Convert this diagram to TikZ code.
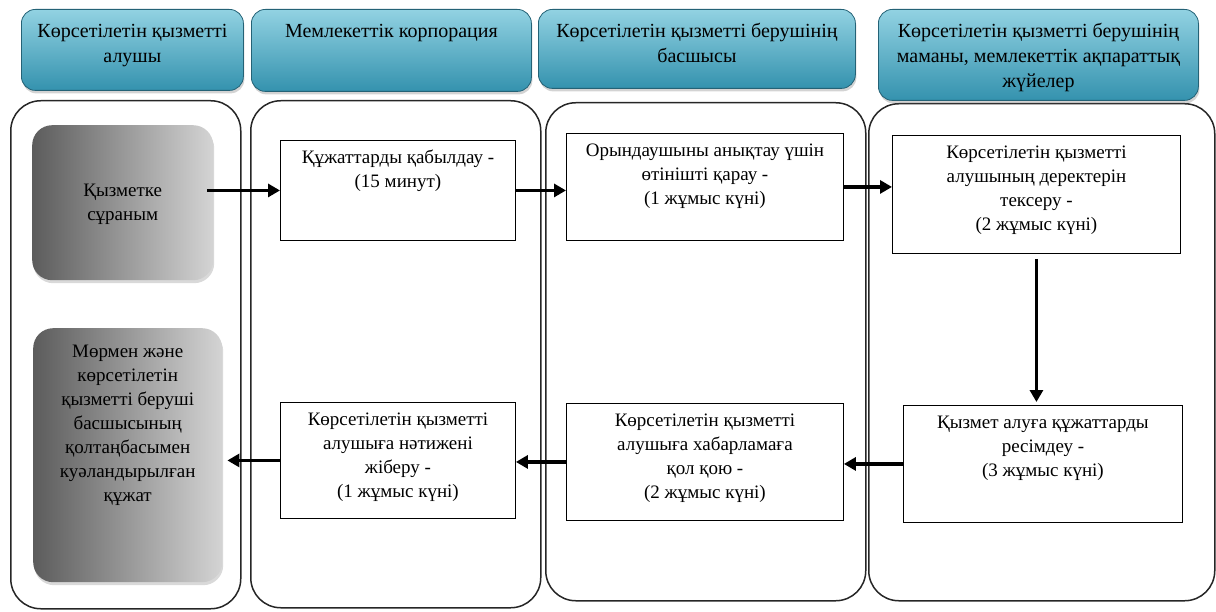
\documentclass[tikz,border=0pt]{standalone}
\usepackage{fontspec}
\setmainfont{Liberation Serif}
\newfontfamily\kzfont{Liberation Serif}
\usetikzlibrary{arrows.meta,shadows}

\definecolor{headtop}{RGB}{146,210,226}
\definecolor{headmid}{RGB}{100,186,208}
\definecolor{headbot}{RGB}{52,146,174}
\definecolor{headedge}{RGB}{36,98,118}
\definecolor{greydark}{RGB}{92,92,92}
\definecolor{greylight}{RGB}{212,212,212}

% text block, top aligned inside a box of fixed size
\newcommand{\boxtext}[4][6pt]{\parbox[c][#3][t]{#2}{\centering\vspace*{#1}\strut#4}}

\begin{document}
\begin{tikzpicture}[x=1pt, y=-1pt, font=\kzfont\fontsize{19}{24}\selectfont]
% Styles
\tikzset{
    lane/.style={draw=black!85, line width=1.5pt, rounded corners=30pt,
        inner sep=0pt, anchor=north west},
    head/.style={draw=headedge, line width=0.8pt, rounded corners=14pt,
        top color=headtop, middle color=headmid, bottom color=headbot,
        drop shadow={shadow xshift=1pt, shadow yshift=-3pt, opacity=0.35},
        font=\kzfont\fontsize{20}{25}\selectfont,
        inner sep=0pt, anchor=north west},
    task/.style={draw, line width=0.9pt, fill=white, inner sep=0pt,
        anchor=north west},
    client/.style={rounded corners=20pt, left color=greydark,
        right color=greylight,
        drop shadow={shadow xshift=1pt, shadow yshift=-3pt, opacity=0.3},
        inner sep=0pt, anchor=north west},
    flow/.style={line width=3.6pt, -{Triangle[length=12pt, width=13pt]}}
}
\useasboundingbox (0,0) rectangle (1216,612);

% Lanes
\node[lane, minimum width=230pt, minimum height=508pt] (lane1) at (10,100) {};
\node[lane, minimum width=290pt, minimum height=507pt] (lane2) at (250,100) {};
\node[lane, minimum width=320pt, minimum height=498pt] (lane3) at (545,102) {};
\node[lane, minimum width=346pt, minimum height=497pt] (lane4) at (868,103) {};

% Headers
\node[head] (head1) at (21,9)
    {\boxtext[11pt]{222pt}{81pt}{Көрсетілетін қызметті\\алушы}};
\node[head] (head2) at (251,9)
    {\boxtext[11pt]{280pt}{82pt}{Мемлекеттік корпорация}};
\node[head] (head3) at (538,9)
    {\boxtext[11pt]{317pt}{79pt}{Көрсетілетін қызметті берушінің\\басшысы}};
\node[head] (head4) at (878,9)
    {\boxtext[11pt]{320pt}{91pt}{Көрсетілетін қызметті берушінің\\маманы, мемлекеттік ақпараттық\\жүйелер}};

% Nodes
\node[client] (request) at (32,125)
    {\boxtext[55pt]{181pt}{155pt}{Қызметке\\сұраным}};
\node[client] (result) at (33,328)
    {\boxtext[12pt]{189pt}{254pt}{Мөрмен және\\көрсетілетін\\қызметті беруші\\басшысының\\қолтаңбасымен\\куәландырылған\\құжат}};

\node[task] (accept) at (280,140)
    {\boxtext{235pt}{100pt}{Құжаттарды қабылдау -\\(15 минут)}};
\node[task] (review) at (566,133)
    {\boxtext{277pt}{107pt}{Орындаушыны анықтау үшін\\өтінішті қарау -\\(1 жұмыс күні)}};
\node[task] (check) at (892,135)
    {\boxtext{288pt}{118pt}{Көрсетілетін қызметті\\алушының деректерін\\тексеру -\\(2 жұмыс күні)}};
\node[task] (prepare) at (903,405)
    {\boxtext{279pt}{117pt}{Қызмет алуға құжаттарды\\ресімдеу -\\(3 жұмыс күні)}};
\node[task] (sign) at (566,403)
    {\boxtext{277pt}{117pt}{Көрсетілетін қызметті\\алушыға хабарламаға\\қол қою -\\(2 жұмыс күні)}};
\node[task] (send) at (280,402)
    {\boxtext{235pt}{116pt}{Көрсетілетін қызметті\\алушыға нәтижені\\жіберу -\\(1 жұмыс күні)}};

% Connections
\draw[flow, shorten <=-6pt] (accept.west -| request.east) -- (accept.west);
\draw[flow] (accept.east) -- (accept.east -| review.west);
\draw[flow] (review.east) -- (review.east -| check.west);
\draw[flow, shorten <=5pt, shorten >=3pt] (check.south) -- (check.south |- prepare.north);
\draw[flow] (prepare.west) -- (prepare.west -| sign.east);
\draw[flow] (sign.west) -- (sign.west -| send.east);
\draw[flow, shorten >=5pt] (send.west) -- (send.west -| result.east);
\end{tikzpicture}
\end{document}
